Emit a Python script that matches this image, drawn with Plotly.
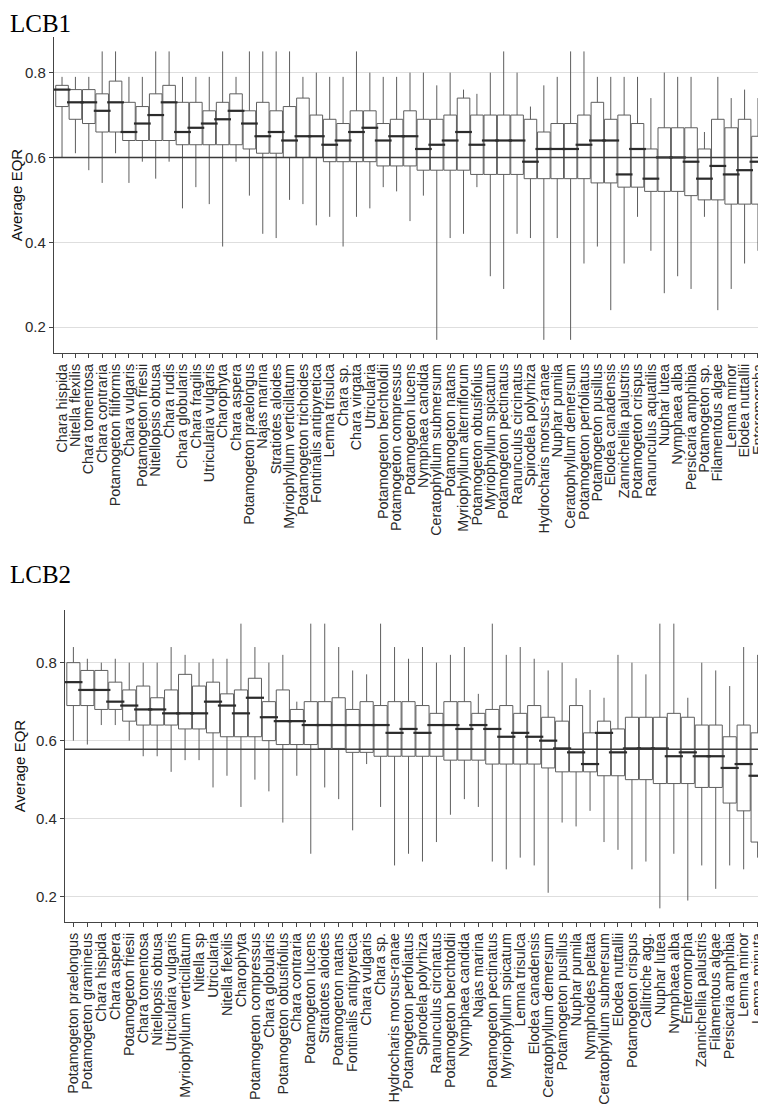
import plotly.graph_objects as go

# ---------------- LCB1 data ----------------
cats1 = ["Chara hispida", "Nitella flexilis", "Chara tomentosa", "Chara contraria",
         "Potamogeton filiformis", "Chara vulgaris", "Potamogeton friesii", "Nitellopsis obtusa",
         "Chara rudis", "Chara globularis", "Chara fragilis", "Utricularia vulgaris", "Charophyta",
         "Chara aspera", "Potamogeton praelongus", "Najas marina", "Stratiotes aloides",
         "Myriophyllum verticillatum", "Potamogeton trichoides", "Fontinalis antipyretica",
         "Lemna trisulca", "Chara sp.", "Chara virgata", "Utricularia", "Potamogeton berchtoldii",
         "Potamogeton compressus", "Potamogeton lucens", "Nymphaea candida",
         "Ceratophyllum submersum", "Potamogeton natans", "Myriophyllum alterniflorum",
         "Potamogeton obtusifolius", "Myriophyllum spicatum", "Potamogeton pectinatus",
         "Ranunculus circinatus", "Spirodela polyrhiza", "Hydrocharis morsus-ranae",
         "Nuphar pumila", "Ceratophyllum demersum", "Potamogeton perfoliatus",
         "Potamogeton pusillus", "Elodea canadensis", "Zannichellia palustris",
         "Potamogeton crispus", "Ranunculus aquatilis", "Nuphar lutea", "Nymphaea alba",
         "Persicaria amphibia", "Potamogeton sp.", "Filamentous algae", "Lemna minor",
         "Elodea nuttallii", "Enteromorpha"]
low1 = [0.60, 0.61, 0.57, 0.54, 0.61, 0.54, 0.59, 0.55, 0.59, 0.48, 0.53, 0.49, 0.39, 0.59,
        0.51, 0.42, 0.41, 0.50, 0.49, 0.44, 0.46, 0.39, 0.46, 0.48, 0.53, 0.52, 0.45, 0.51,
        0.17, 0.41, 0.42, 0.53, 0.32, 0.29, 0.42, 0.41, 0.17, 0.41, 0.17, 0.35, 0.39, 0.24,
        0.35, 0.46, 0.38, 0.28, 0.32, 0.29, 0.46, 0.24, 0.29, 0.35, 0.38]
q1_1 = [0.72, 0.69, 0.68, 0.66, 0.66, 0.64, 0.64, 0.64, 0.64, 0.63, 0.63, 0.63, 0.63, 0.63,
        0.62, 0.61, 0.61, 0.60, 0.60, 0.60, 0.59, 0.59, 0.59, 0.59, 0.58, 0.58, 0.58, 0.57,
        0.57, 0.57, 0.57, 0.56, 0.56, 0.56, 0.56, 0.55, 0.55, 0.55, 0.55, 0.55, 0.54, 0.54,
        0.53, 0.53, 0.52, 0.52, 0.52, 0.51, 0.50, 0.50, 0.49, 0.49, 0.49]
med1 = [0.76, 0.73, 0.73, 0.71, 0.73, 0.66, 0.68, 0.70, 0.73, 0.66, 0.67, 0.68, 0.69, 0.71,
        0.68, 0.65, 0.66, 0.64, 0.65, 0.65, 0.63, 0.64, 0.66, 0.67, 0.64, 0.65, 0.65, 0.62,
        0.63, 0.64, 0.66, 0.63, 0.64, 0.64, 0.64, 0.59, 0.62, 0.62, 0.62, 0.63, 0.64, 0.64,
        0.56, 0.62, 0.55, 0.60, 0.60, 0.59, 0.55, 0.58, 0.56, 0.57, 0.59]
q3_1 = [0.77, 0.76, 0.76, 0.75, 0.78, 0.73, 0.72, 0.75, 0.77, 0.73, 0.73, 0.71, 0.73, 0.75,
        0.71, 0.73, 0.71, 0.72, 0.74, 0.70, 0.69, 0.68, 0.71, 0.71, 0.68, 0.69, 0.71, 0.69,
        0.69, 0.70, 0.74, 0.70, 0.70, 0.70, 0.70, 0.69, 0.66, 0.68, 0.68, 0.70, 0.73, 0.69,
        0.70, 0.68, 0.62, 0.67, 0.67, 0.67, 0.62, 0.69, 0.67, 0.69, 0.65]
high1 = [0.79, 0.79, 0.79, 0.85, 0.85, 0.79, 0.79, 0.85, 0.85, 0.79, 0.79, 0.79, 0.85, 0.79,
         0.85, 0.85, 0.85, 0.85, 0.79, 0.80, 0.79, 0.79, 0.85, 0.80, 0.79, 0.79, 0.80, 0.80,
         0.77, 0.80, 0.76, 0.75, 0.80, 0.85, 0.80, 0.72, 0.77, 0.79, 0.85, 0.85, 0.79, 0.79,
         0.79, 0.79, 0.74, 0.80, 0.79, 0.79, 0.66, 0.79, 0.74, 0.76, 0.74]
ref1 = 0.60

# ---------------- LCB2 data ----------------
cats2 = ["Potamogeton praelongus", "Potamogeton gramineus", "Chara hispida", "Chara aspera",
         "Potamogeton friesii", "Chara tomentosa", "Nitellopsis obtusa", "Utricularia vulgaris",
         "Myriophyllum verticillatum", "Nitella sp", "Utricularia", "Nitella flexilis",
         "Charophyta", "Potamogeton compressus", "Chara globularis", "Potamogeton obtusifolius",
         "Chara contraria", "Potamogeton lucens", "Stratiotes aloides", "Potamogeton natans",
         "Fontinalis antipyretica", "Chara vulgaris", "Chara sp.", "Hydrocharis morsus-ranae",
         "Potamogeton perfoliatus", "Spirodela polyrhiza", "Ranunculus circinatus",
         "Potamogeton berchtoldii", "Nymphaea candida", "Najas marina", "Potamogeton pectinatus",
         "Myriophyllum spicatum", "Lemna trisulca", "Elodea canadensis", "Ceratophyllum demersum",
         "Potamogeton pusillus", "Nuphar pumila", "Nymphoides peltata", "Ceratophyllum submersum",
         "Elodea nuttallii", "Potamogeton crispus", "Callitriche agg.", "Nuphar lutea",
         "Nymphaea alba", "Enteromorpha", "Zannichellia palustris", "Filamentous algae",
         "Persicaria amphibia", "Lemna minor", "Lemna minuta"]
low2 = [0.60, 0.59, 0.64, 0.64, 0.60, 0.56, 0.56, 0.52, 0.55, 0.55, 0.48, 0.51, 0.43, 0.50,
        0.47, 0.39, 0.51, 0.31, 0.48, 0.45, 0.37, 0.54, 0.43, 0.28, 0.31, 0.29, 0.34, 0.41,
        0.45, 0.43, 0.29, 0.27, 0.30, 0.28, 0.21, 0.39, 0.38, 0.42, 0.34, 0.32, 0.27, 0.29,
        0.17, 0.31, 0.19, 0.28, 0.22, 0.28, 0.27, 0.30]
q1_2 = [0.69, 0.69, 0.68, 0.68, 0.65, 0.64, 0.64, 0.64, 0.63, 0.63, 0.62, 0.61, 0.61, 0.61,
        0.60, 0.59, 0.59, 0.59, 0.58, 0.58, 0.57, 0.57, 0.56, 0.56, 0.56, 0.56, 0.56, 0.55,
        0.55, 0.55, 0.54, 0.54, 0.54, 0.54, 0.53, 0.52, 0.52, 0.52, 0.51, 0.51, 0.50, 0.50,
        0.49, 0.49, 0.49, 0.48, 0.48, 0.44, 0.42, 0.34]
med2 = [0.75, 0.73, 0.73, 0.70, 0.69, 0.68, 0.68, 0.67, 0.67, 0.67, 0.70, 0.69, 0.67, 0.71,
        0.66, 0.65, 0.65, 0.64, 0.64, 0.64, 0.64, 0.64, 0.64, 0.62, 0.63, 0.62, 0.64, 0.64,
        0.63, 0.64, 0.63, 0.61, 0.62, 0.61, 0.60, 0.58, 0.57, 0.54, 0.62, 0.57, 0.58, 0.58,
        0.58, 0.56, 0.57, 0.56, 0.56, 0.53, 0.54, 0.51]
q3_2 = [0.80, 0.78, 0.78, 0.75, 0.73, 0.74, 0.71, 0.73, 0.77, 0.74, 0.75, 0.72, 0.73, 0.76,
        0.70, 0.73, 0.68, 0.70, 0.70, 0.71, 0.68, 0.70, 0.69, 0.70, 0.70, 0.69, 0.67, 0.70,
        0.70, 0.67, 0.68, 0.69, 0.67, 0.69, 0.66, 0.65, 0.69, 0.62, 0.65, 0.63, 0.66, 0.66,
        0.66, 0.67, 0.66, 0.64, 0.64, 0.61, 0.64, 0.62]
high2 = [0.84, 0.81, 0.80, 0.81, 0.80, 0.80, 0.80, 0.84, 0.82, 0.80, 0.81, 0.81, 0.90, 0.84,
         0.80, 0.82, 0.70, 0.90, 0.90, 0.84, 0.78, 0.77, 0.90, 0.84, 0.81, 0.84, 0.80, 0.82,
         0.84, 0.72, 0.90, 0.82, 0.84, 0.81, 0.78, 0.80, 0.76, 0.73, 0.71, 0.82, 0.80, 0.77,
         0.90, 0.90, 0.71, 0.80, 0.78, 0.74, 0.84, 0.82]
ref2 = 0.578

y_ticks = [0.2, 0.4, 0.6, 0.8]

W, H = 766, 1104
OFF = 8  # page body margin: figure is drawn 8px right/down of the window origin
FONT = "Liberation Sans, Arial, sans-serif"
SERIF = "Liberation Serif, Times New Roman, serif"
BOX_LINE = "#5e5e5e"
MED_COL = "#2b2b2b"
AXIS_COL = "#444444"
GRID_COL = "#dedede"


def px_x(x):
    return (x - OFF) / W


def px_y(y):
    return 1 - (y - OFF) / H


fig = go.Figure()

panels = [
    (cats1, low1, q1_1, med1, q3_1, high1, "x", "y", 12),
    (cats2, low2, q1_2, med2, q3_2, high2, "x2", "y2", 13),
]
for cats, lo, q1, md, q3, hi, xa, ya, msize in panels:
    fig.add_trace(go.Box(
        x=cats, q1=q1, median=md, q3=q3, lowerfence=lo, upperfence=hi,
        xaxis=xa, yaxis=ya, width=0.94, whiskerwidth=0,
        fillcolor="white", line=dict(color=BOX_LINE, width=1),
        boxpoints=False, showlegend=False, hoverinfo="skip",
    ))
    fig.add_trace(go.Scatter(
        x=cats, y=md, xaxis=xa, yaxis=ya, mode="markers",
        marker=dict(symbol="line-ew", size=msize,
                    line=dict(color=MED_COL, width=2.2)),
        showlegend=False, hoverinfo="skip",
    ))


def xaxis_cfg(domain, cats, anchor):
    return dict(
        domain=domain, anchor=anchor, type="category",
        categoryorder="array", categoryarray=cats,
        range=[-0.6, len(cats) - 0.4],
        tickmode="linear", tick0=0, dtick=1,
        showline=True, linecolor=AXIS_COL, linewidth=1.3,
        ticks="outside", ticklen=4, tickcolor=AXIS_COL, tickwidth=1,
        tickangle=-90, tickfont=dict(family=FONT, size=14.4, color="#2a2a2a"),
        showgrid=False, zeroline=False, fixedrange=True,
    )


def yaxis_cfg(domain, rng, anchor):
    return dict(
        domain=domain, anchor=anchor, range=rng,
        tickvals=y_ticks, ticktext=[f"{v:.1f}" for v in y_ticks],
        showline=True, linecolor=AXIS_COL, linewidth=1.3,
        ticks="outside", ticklen=4, tickcolor=AXIS_COL, tickwidth=1,
        tickfont=dict(family=FONT, size=15, color="#2a2a2a"),
        showgrid=True, gridcolor=GRID_COL, gridwidth=1,
        zeroline=False, fixedrange=True,
        title=dict(text="Average EQR", font=dict(family=FONT, size=15, color="#111"),
                   standoff=6),
    )


fig.update_layout(
    width=W, height=H,
    margin=dict(l=0, r=0, t=0, b=0),
    paper_bgcolor="white", plot_bgcolor="white",
    xaxis=xaxis_cfg([px_x(54), px_x(766)], cats1, "y"),
    yaxis=yaxis_cfg([px_y(353), px_y(37)], [0.139, 0.884], "x"),
    xaxis2=xaxis_cfg([px_x(65), px_x(766)], cats2, "y2"),
    yaxis2=yaxis_cfg([px_y(922), px_y(610)], [0.135, 0.935], "x2"),
    shapes=[
        dict(type="line", xref="x domain", yref="y", x0=0, x1=1, y0=ref1, y1=ref1,
             line=dict(color="#3a3a3a", width=1.6), layer="above"),
        dict(type="line", xref="x2 domain", yref="y2", x0=0, x1=1, y0=ref2, y1=ref2,
             line=dict(color="#3a3a3a", width=1.6), layer="above"),
    ],
    annotations=[
        dict(text="LCB1", xref="paper", yref="paper", x=0, y=1.0, xanchor="left",
             yanchor="top", showarrow=False, font=dict(family=SERIF, size=25, color="black")),
        dict(text="LCB2", xref="paper", yref="paper", x=0, y=px_y(559), xanchor="left",
             yanchor="top", showarrow=False, font=dict(family=SERIF, size=25, color="black")),
    ],
)

fig.write_html("out.html")
